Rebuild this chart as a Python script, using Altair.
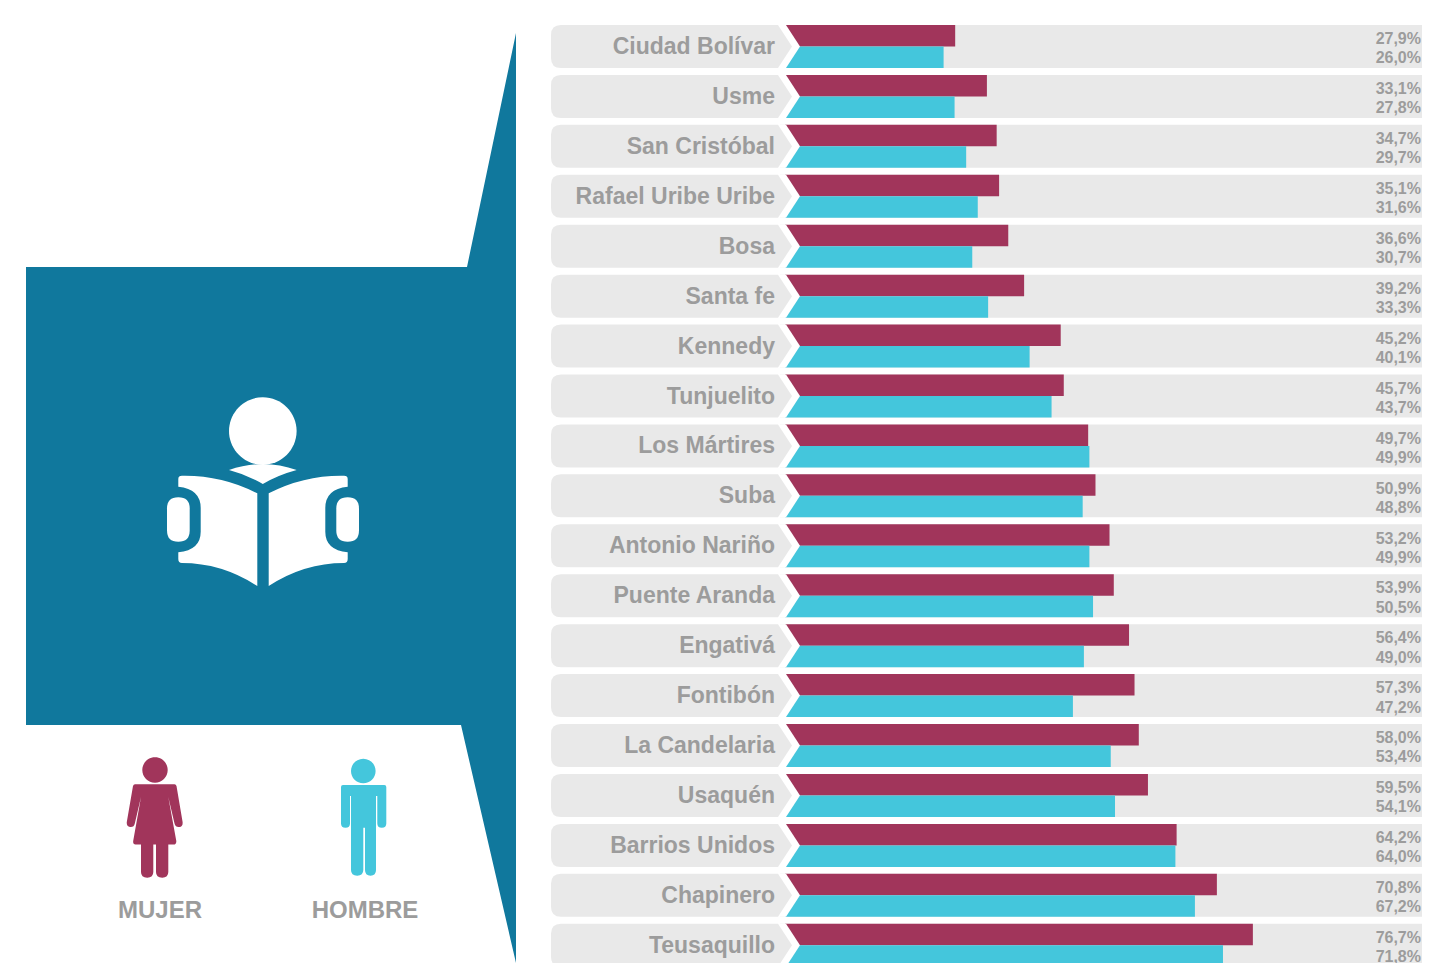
import altair as alt
import pandas as pd

distritos = ["Ciudad Bolívar", "Usme", "San Cristóbal", "Rafael Uribe Uribe", "Bosa", "Santa fe",
             "Kennedy", "Tunjuelito", "Los Mártires", "Suba", "Antonio Nariño", "Puente Aranda",
             "Engativá", "Fontibón", "La Candelaria", "Usaquén", "Barrios Unidos", "Chapinero", "Teusaquillo"]
mujer = [27.9, 33.1, 34.7, 35.1, 36.6, 39.2, 45.2, 45.7, 49.7, 50.9, 53.2, 53.9, 56.4, 57.3, 58.0, 59.5, 64.2, 70.8, 76.7]
hombre = [26.0, 27.8, 29.7, 31.6, 30.7, 33.3, 40.1, 43.7, 49.9, 48.8, 49.9, 50.5, 49.0, 47.2, 53.4, 54.1, 64.0, 67.2, 71.8]

CRIMSON = "#a1355b"
CYAN = "#44c6dc"
TEAL = "#10789d"
ROW = "#e9e9e9"
GREY = "#9c9c9c"
FONT = "Liberation Sans"

rows = []
for d, m, h in zip(distritos, mujer, hombre):
    rows.append({"distrito": d, "sexo": "Mujer", "valor": m, "etiqueta": f"{m:.1f}%".replace(".", ",")})
    rows.append({"distrito": d, "sexo": "Hombre", "valor": h, "etiqueta": f"{h:.1f}%".replace(".", ",")})
df = pd.DataFrame(rows)
one = pd.DataFrame({"k": [0]})

Y = alt.Y("distrito:N", sort=distritos, axis=None,
          scale=alt.Scale(domain=distritos, range=[17, 958.74], paddingInner=0.139, paddingOuter=0))
YO = alt.YOffset("sexo:N", sort=["Mujer", "Hombre"])
X = alt.X("valor:Q", axis=None, stack=None, scale=alt.Scale(domain=[0, 100], range=[777, 1387]))


def deco(path, color, x=-8, y=-8):
    return alt.Chart(one).mark_point(shape=path, size=4, filled=True, fill=color,
                                     strokeWidth=0, opacity=1).encode(x=alt.value(x), y=alt.value(y))


def caption(txt, cx, cy):
    return alt.Chart(one).mark_text(text=txt, font=FONT, fontWeight="bold", fontSize=24, color=GREY,
                                    align="center", baseline="middle").encode(
        x=alt.value(cx - 8), y=alt.value(cy - 8))


panel_path = "M26,267 L467,267 L516,33 L516,963 L461,725 L26,725 Z"
head = "M229,431 A33.8,33.8 0 1 1 296.6,431 A33.8,33.8 0 1 1 229,431 Z"
collar = "M229,470 Q263,458 296.7,470 Q278,475 262.8,484 Q248,475 229,470 Z"
left_page = ("M182,475.7 Q222,475 257.3,493.3 L257.3,586 Q222,563 182,563 Q178.3,563 178.3,559 L178.3,552.3 "
             "Q200.7,550 200.7,531.7 L200.7,508 Q200.7,489 178.3,486.7 L178.3,479 Q178.3,475.7 182,475.7 Z")
right_page = ("M344,475.7 Q304,475 268.7,493.3 L268.7,586 Q304,563 344,563 Q347.7,563 347.7,559 L347.7,552.3 "
              "Q325.3,550 325.3,531.7 L325.3,508 Q325.3,489 347.7,486.7 L347.7,479 Q347.7,475.7 344,475.7 Z")
left_pill = ("M178.3,497.3 Q189.7,497.3 189.7,508.6 L189.7,530.4 Q189.7,541.7 178.3,541.7 "
             "Q167,541.7 167,530.4 L167,508.6 Q167,497.3 178.3,497.3 Z")
right_pill = ("M347.7,497.3 Q359,497.3 359,508.6 L359,530.4 Q359,541.7 347.7,541.7 "
              "Q336.3,541.7 336.3,530.4 L336.3,508.6 Q336.3,497.3 347.7,497.3 Z")

woman = ("M142.3,770 A12.7,12.7 0 1 1 167.7,770 A12.7,12.7 0 1 1 142.3,770 Z "
         "M135,784.3 L174.5,784.3 Q176,784.3 176.5,786 L182.6,822 Q183,826.5 179.5,827 Q175.5,827.5 174.5,823.5 "
         "L168.3,797 L176.3,841 Q176.5,844.5 173.5,844.5 L168.3,844.5 L168.3,872 Q168.3,877.7 162.2,877.7 "
         "Q156,877.7 156,872 L156,844.5 L153.3,844.5 L153.3,872 Q153.3,877.7 147.2,877.7 Q141,877.7 141,872 "
         "L141,844.5 L135.5,844.5 Q132.8,844.5 133.2,841 L141,797 L134.8,823.5 Q134,827.5 130,827 "
         "Q126.3,826.5 126.8,822 L133,786 Q133.5,784.3 135,784.3 Z")
man = ("M351,771 A12.3,12.3 0 1 1 375.6,771 A12.3,12.3 0 1 1 351,771 Z "
       "M343,785 L384.3,785 Q386.3,785 386.3,787 L386.3,823.5 Q386.3,827.7 381.8,827.7 Q377.3,827.7 377.3,823.5 "
       "L377.3,796 L376,796 L376,870 Q376,875.7 370.5,875.7 Q365,875.7 365,870 L365,827.7 L363.3,827.7 L363.3,870 "
       "Q363.3,875.7 357.2,875.7 Q351,875.7 351,870 L351,796 L350,796 L350,823.5 Q350,827.7 345.5,827.7 "
       "Q341,827.7 341,823.5 L341,787 Q341,785 343,785 Z")

# per-row shapes, in page x and row-centred y
row_right = "M780,-21.5 L1440,-21.5 L1440,21.5 L780,21.5 Z"
row_gap = "M778,-21.5 L786,-21.5 L800,0 L786,21.5 L778,21.5 Z"
row_label = "M561,-21.5 L778,-21.5 L792,0 L778,21.5 L561,21.5 Q551,21.5 551,11.5 L551,-11.5 Q551,-21.5 561,-21.5 Z"
base = alt.Chart(pd.DataFrame({"distrito": distritos}))


def row_deco(path, color):
    return base.mark_point(shape=path, size=4, filled=True, fill=color, strokeWidth=0, opacity=1).encode(
        x=alt.value(-8), y=Y)


bars = alt.Chart(df).mark_bar(clip=True).encode(
    x=X, y=Y, yOffset=YO,
    color=alt.Color("sexo:N", legend=None,
                    scale=alt.Scale(domain=["Mujer", "Hombre"], range=[CRIMSON, CYAN])))

names = base.mark_text(font=FONT, fontWeight="bold", fontSize=23, color=GREY, align="right",
                       baseline="middle", dy=0.5).encode(x=alt.value(775 - 8), y=Y, text="distrito:N")
pct_m = alt.Chart(df[df.sexo == "Mujer"]).mark_text(font=FONT, fontWeight="bold", fontSize=16, color=GREY,
                                                    align="right", baseline="middle", dy=3.5).encode(
    x=alt.value(1421 - 8), y=Y, yOffset=YO, text="etiqueta:N")
pct_h = alt.Chart(df[df.sexo == "Hombre"]).mark_text(font=FONT, fontWeight="bold", fontSize=16, color=GREY,
                                                     align="right", baseline="middle", dy=1.2).encode(
    x=alt.value(1421 - 8), y=Y, yOffset=YO, text="etiqueta:N")

chart = alt.layer(
    deco(panel_path, TEAL),
    deco(head, "#ffffff"), deco(collar, "#ffffff"), deco(left_page, "#ffffff"), deco(right_page, "#ffffff"),
    deco(left_pill, "#ffffff"), deco(right_pill, "#ffffff"),
    deco(woman, CRIMSON), deco(man, CYAN),
    caption("MUJER", 160, 911), caption("HOMBRE", 365, 911),
    row_deco(row_right, ROW), bars, row_deco(row_gap, "#ffffff"), row_deco(row_label, ROW),
    names, pct_m, pct_h,
).properties(
    width=1414, height=955, padding=0, background="#ffffff",
    autosize=alt.AutoSizeParams(type="none", contains="padding"),
).configure_view(stroke=None)

chart.save("out.html", embed_options={"renderer": "svg", "actions": False})
